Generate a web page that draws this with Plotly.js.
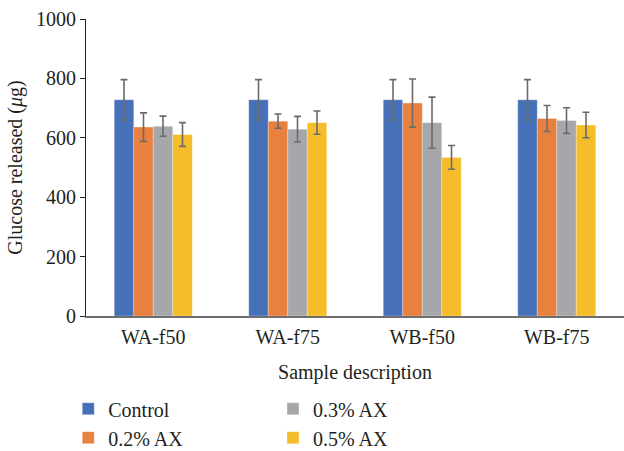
<!DOCTYPE html>
<html>
<head>
<meta charset="utf-8">
<script src="https://cdn.plot.ly/plotly-3.0.1.min.js"></script>
<style>html,body{margin:0;padding:0;background:#fff;}#chart{width:624px;height:451px;}</style>
</head>
<body>
<div id="chart"></div>
<script>
var categories = ["WA-f50", "WA-f75", "WB-f50", "WB-f75"];
var seriesNames = ["Control", "0.2% AX", "0.3% AX", "0.5% AX"];
var control = [728, 728, 728, 728];
var controlErr = [68, 68, 68, 68];
var ax02 = [636, 656, 717, 665];
var ax02Err = [48, 24, 81, 44];
var ax03 = [639, 629, 651, 658];
var ax03Err = [34, 43, 86, 43];
var ax05 = [611, 651, 534, 643];
var ax05Err = [40, 39, 40, 43];
var yTicks = [0, 200, 400, 600, 800, 1000];

var colors = ["#4670B8", "#E8803F", "#A6A7AA", "#F5BD2A"];
var legendIds = ["legend", "legend", "legend2", "legend2"];
var values = [control, ax02, ax03, ax05];
var errs = [controlErr, ax02Err, ax03Err, ax05Err];

var font = "'Liberation Serif', 'DejaVu Serif', serif";
var traces = seriesNames.map(function (name, i) {
  return {
    type: "bar",
    name: name,
    x: categories,
    y: values[i],
    legend: legendIds[i],
    marker: { color: colors[i], line: { color: "rgba(255,255,255,0.5)", width: 0.6 } },
    error_y: { type: "data", array: errs[i], visible: true, color: "#6b6b6b", thickness: 1.6, width: 3.5 },
    hoverinfo: "none"
  };
});

function legendAt(x) {
  return {
    orientation: "v",
    xref: "paper",
    yref: "container",
    x: x,
    xanchor: "left",
    y: 0.137,
    yanchor: "top",
    traceorder: "normal",
    font: { family: font, size: 20, color: "#231f20" },
    tracegroupgap: 0,
    itemwidth: 30,
    bgcolor: "rgba(0,0,0,0)"
  };
}

var layout = {
  width: 624,
  height: 451,
  margin: { l: 86, r: 0, t: 19, b: 135 },
  paper_bgcolor: "#fff",
  plot_bgcolor: "#fff",
  barmode: "group",
  bargap: 0.42,
  bargroupgap: 0,
  font: { family: font, size: 20, color: "#231f20" },
  xaxis: {
    type: "category",
    automargin: false,
    showline: true,
    linecolor: "#6e6e6e",
    linewidth: 1.6,
    ticks: "",
    ticklabelstandoff: 2,
    showgrid: false,
    zeroline: false,
    tickfont: { family: font, size: 20, color: "#231f20" },
    title: { text: "Sample description", font: { family: font, size: 20, color: "#231f20" }, standoff: 18 }
  },
  yaxis: {
    automargin: false,
    range: [0, 1000],
    tickvals: yTicks,
    ticktext: yTicks.map(String),
    showline: true,
    linecolor: "#231f20",
    linewidth: 1,
    ticks: "outside",
    ticklen: 5,
    tickcolor: "#231f20",
    showgrid: false,
    zeroline: false,
    tickfont: { family: font, size: 20, color: "#231f20" },
    title: { text: "Glucose released (<i>μ</i>g)", font: { family: font, size: 20, color: "#231f20" }, standoff: 8 }
  },
  showlegend: true,
  legend: legendAt(-0.033),
  legend2: legendAt(0.3476)
};

Plotly.newPlot("chart", traces, layout, { staticPlot: true, displayModeBar: false });
</script>
</body>
</html>
